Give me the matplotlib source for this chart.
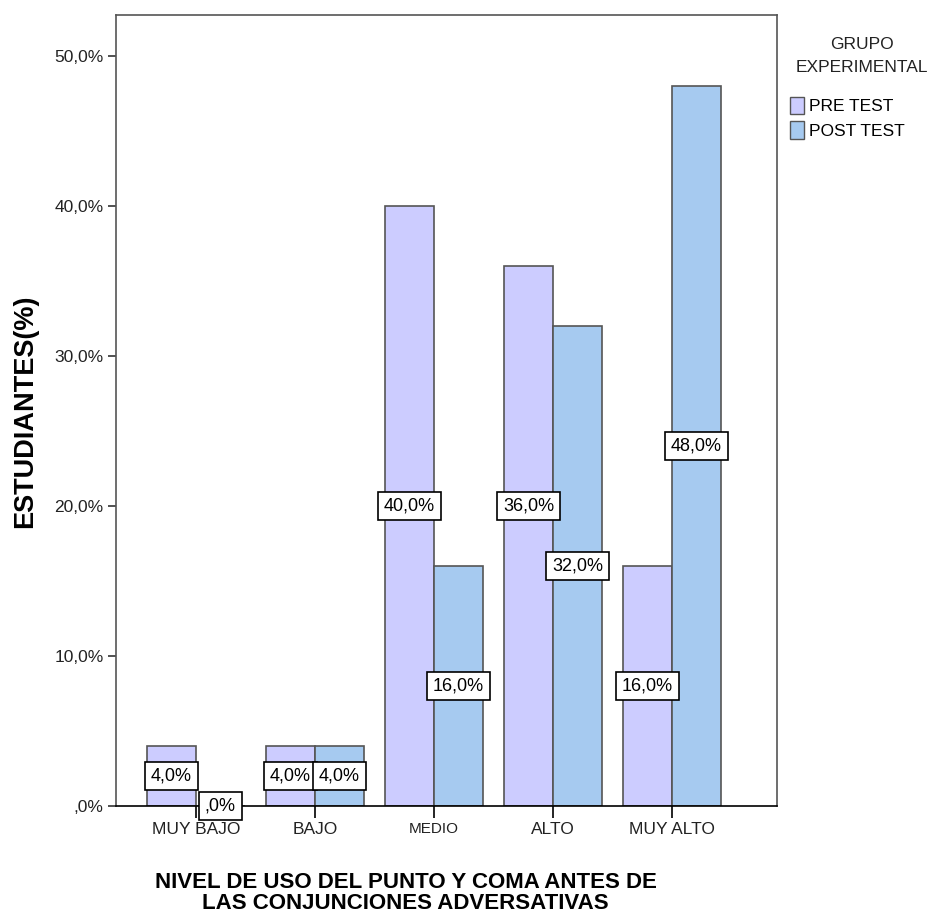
import numpy as np
import matplotlib.pyplot as plt
from matplotlib.patches import Patch

categories = ['MUY BAJO', 'BAJO', 'MEDIO', 'ALTO', 'MUY ALTO']
pre_test = [4.0, 4.0, 40.0, 36.0, 16.0]
post_test = [0.0, 4.0, 16.0, 32.0, 48.0]
yticks = [0, 10, 20, 30, 40, 50]
ytick_labels = [',0%', '10,0%', '20,0%', '30,0%', '40,0%', '50,0%']

plt.rcParams['font.family'] = ['Liberation Sans', 'DejaVu Sans']

PRE_COLOR = '#ccccff'
POST_COLOR = '#a6caf0'
EDGE = '#555555'

fig = plt.figure(figsize=(9.28, 9.15), dpi=100)
ax = fig.add_axes([0.125, 0.119, 0.712, 0.8646])

x = np.arange(len(categories))
w = 0.41
ax.bar(x - w / 2, pre_test, width=w, color=PRE_COLOR, edgecolor=EDGE, linewidth=1.2, zorder=2)
ax.bar(x + w / 2, post_test, width=w, color=POST_COLOR, edgecolor=EDGE, linewidth=1.2, zorder=2)


def pct(v):
    lab = f'{v:.1f}%'.replace('.', ',')
    return ',0%' if v == 0 else lab


# labels sit at bar middle; SPSS pushed the ALTO pre-test one up to avoid overlap
pre_nudge = [0, 0, 0, 2.0, 0]

box = dict(boxstyle='square,pad=0.32', facecolor='white', edgecolor='black', linewidth=1.2)
for xi, v, dy in zip(x - w / 2, pre_test, pre_nudge):
    ax.text(xi, v / 2 + dy, pct(v), ha='center', va='center', fontsize=13, bbox=box, zorder=4)
for xi, v in zip(x + w / 2, post_test):
    ax.text(xi, v / 2, pct(v), ha='center', va='center', fontsize=13, bbox=box, zorder=4)

ax.set_xlim(-0.672, 4.88)
ax.set_ylim(0, 52.73)
ax.set_yticks(yticks)
ax.set_yticklabels(ytick_labels, fontsize=12.5, color='#222222')
ax.set_xticks(x)
ax.set_xticklabels(categories, fontsize=12.5, color='#222222')
ax.get_xticklabels()[2].set_fontsize(11)  # MEDIO is drawn smaller in the original
ax.tick_params(axis='y', length=6, width=1.2, color='#333333', pad=3)
ax.tick_params(axis='x', length=8.5, width=1.2, color='black', direction='out', pad=3)
for s in ax.spines.values():
    s.set_color('#555555')
    s.set_linewidth(1.2)
ax.spines['bottom'].set_color('black')

fig.text(0.027, 0.551, 'ESTUDIANTES(%)', rotation=90, ha='center', va='center',
         fontsize=19.5, fontweight='bold')
fig.text(0.437, 0.024, 'NIVEL DE USO DEL PUNTO Y COMA ANTES DE\nLAS CONJUNCIONES ADVERSATIVAS',
         ha='center', va='center', fontsize=16, fontweight='bold', linespacing=1.02)

handles = [Patch(facecolor=PRE_COLOR, edgecolor=EDGE, label='PRE TEST'),
           Patch(facecolor=POST_COLOR, edgecolor=EDGE, label='POST TEST')]
leg = fig.legend(handles=handles, loc='upper left', bbox_to_anchor=(0.851, 0.894),
                 frameon=False, fontsize=12.5, handlelength=0.85, handleheight=1.15,
                 handletextpad=0.25, labelspacing=0.4, borderaxespad=0, borderpad=0)
fig.text(0.929, 0.939, 'GRUPO\nEXPERIMENTAL', ha='center', va='center', fontsize=12.5,
         linespacing=1.7, color='#222222')

fig.savefig('out.png', dpi=100)
